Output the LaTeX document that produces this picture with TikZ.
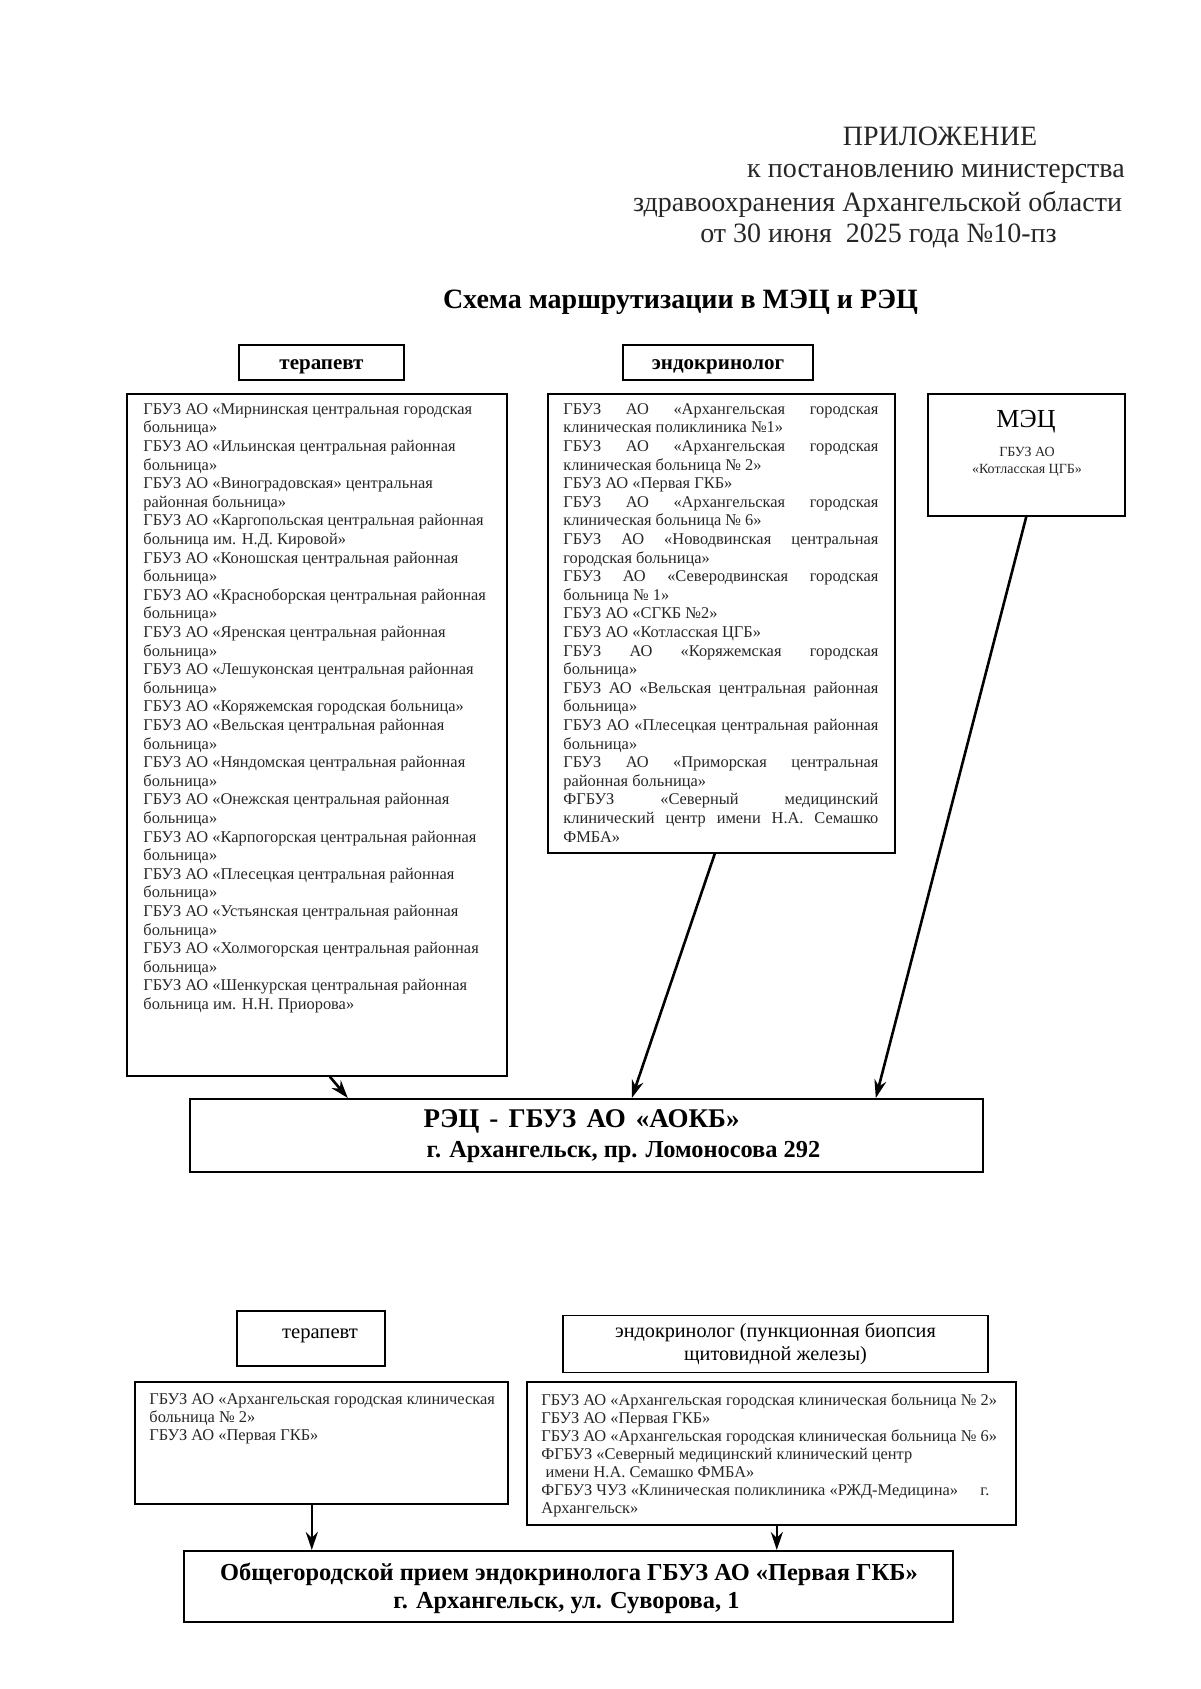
\documentclass[tikz,border=0pt]{standalone}
\usepackage{fontspec}
\setmainfont{Liberation Serif}
\usetikzlibrary{arrows.meta}
\begin{document}
\begin{tikzpicture}[x=0.5pt,y=-0.5pt,
  box/.style={draw, line width=0.8pt, anchor=north west, inner sep=0pt},
  norm/.style={inner sep=0pt, text height=0.72em, text depth=0.22em},
  hd/.style={norm, font=\fontsize{14}{16}\selectfont, text=black!85},
  small/.style={font=\fontsize{8.2}{9.3}\selectfont, text=black!85, align=left, anchor=north west, inner sep=0pt},
  smallb/.style={font=\fontsize{8.2}{9}\selectfont, text=black!85, align=left, anchor=north west, inner sep=0pt},
  bigb/.style={norm, font=\bfseries\fontsize{12.2}{14}\selectfont},
  arr/.style={-{Stealth[length=9pt,width=6pt]}, line width=1.3pt}]
\useasboundingbox (0,0) rectangle (1200,1689);

% header
\node[hd] (h1) at (940,141) {ПРИЛОЖЕНИЕ};
\node[hd] (h2) at (936,173) {к постановлению министерства};
\node[hd] (h3) at (877.5,207) {здравоохранения Архангельской области};
\node[hd] (h4) at (878.5,238) {от 30 июня\ \ 2025 года №10-пз};
\node[norm, font=\bfseries\fontsize{14}{16}\selectfont] (title) at (680.5,304) {Схема маршрутизации в МЭЦ и РЭЦ};

% top headers
\node[draw, line width=0.8pt, minimum width=82.5pt, minimum height=17.5pt, inner sep=0pt] (ter1) at (321.5,362.5) {};
\node[norm, font=\bfseries\fontsize{10.5}{12}\selectfont] (ter1t) at (321.5,365) {терапевт};
\node[draw, line width=0.8pt, minimum width=95pt, minimum height=17.5pt, inner sep=0pt] (end1) at (718,362.5) {};
\node[norm, font=\bfseries\fontsize{10.5}{12}\selectfont] (end1t) at (718,365) {эндокринолог};

% left list
\node[box, minimum width=190pt, minimum height=341pt] (L) at (126,393) {};
\node[small] (Lt) at (143,403) {ГБУЗ АО «Мирнинская центральная городская\\
больница»\\
ГБУЗ АО «Ильинская центральная районная\\
больница»\\
ГБУЗ АО «Виноградовская» центральная\\
районная больница»\\
ГБУЗ АО «Каргопольская центральная районная\\
больница им. Н.Д. Кировой»\\
ГБУЗ АО «Коношская центральная районная\\
больница»\\
ГБУЗ АО «Красноборская центральная районная\\
больница»\\
ГБУЗ АО «Яренская центральная районная\\
больница»\\
ГБУЗ АО «Лешуконская центральная районная\\
больница»\\
ГБУЗ АО «Коряжемская городская больница»\\
ГБУЗ АО «Вельская центральная районная\\
больница»\\
ГБУЗ АО «Няндомская центральная районная\\
больница»\\
ГБУЗ АО «Онежская центральная районная\\
больница»\\
ГБУЗ АО «Карпогорская центральная районная\\
больница»\\
ГБУЗ АО «Плесецкая центральная районная\\
больница»\\
ГБУЗ АО «Устьянская центральная районная\\
больница»\\
ГБУЗ АО «Холмогорская центральная районная\\
больница»\\
ГБУЗ АО «Шенкурская центральная районная\\
больница им. Н.Н. Приорова»};

% middle list
\node[box, minimum width=173.5pt, minimum height=229.5pt] (M) at (547,393) {};
\def\jl#1{\makebox[157.5pt][s]{#1}}
\node[small] (Mt) at (563,403) {\jl{ГБУЗ АО «Архангельская городская}\\
клиническая поликлиника №1»\\
\jl{ГБУЗ АО «Архангельская городская}\\
клиническая больница № 2»\\
ГБУЗ АО «Первая ГКБ»\\
\jl{ГБУЗ АО «Архангельская городская}\\
клиническая больница № 6»\\
\jl{ГБУЗ АО «Новодвинская центральная}\\
городская больница»\\
\jl{ГБУЗ АО «Северодвинская городская}\\
больница № 1»\\
ГБУЗ АО «СГКБ №2»\\
ГБУЗ АО «Котласская ЦГБ»\\
\jl{ГБУЗ АО «Коряжемская городская}\\
больница»\\
\jl{ГБУЗ АО «Вельская центральная районная}\\
больница»\\
\jl{ГБУЗ АО «Плесецкая центральная районная}\\
больница»\\
\jl{ГБУЗ АО «Приморская центральная}\\
районная больница»\\
\jl{ФГБУЗ «Северный медицинский}\\
\jl{клинический центр имени Н.А. Семашко}\\
ФМБА»};

% MEC box
\node[box, minimum width=98.5pt, minimum height=61pt] (MEC) at (927,393) {};
\node[norm, font=\fontsize{13}{15}\selectfont] (MECt) at (1026,423) {МЭЦ};
\node[font=\fontsize{7}{8}\selectfont, text=black!85, inner sep=0pt] (MECa) at (1027,452) {ГБУЗ АО};
\node[font=\fontsize{7}{8}\selectfont, text=black!85, inner sep=0pt] (MECb) at (1027,470) {«Котласская ЦГБ»};

% REC box
\node[box, minimum width=396.5pt, minimum height=36.5pt] (R) at (189,1098) {};
\node[norm, font=\bfseries\fontsize{13.5}{15}\selectfont] (Ra) at (581.5,1122) {\makebox[158pt][s]{РЭЦ - ГБУЗ АО «АОКБ»}};
\node[bigb] (Rb) at (623.5,1152) {г. Архангельск, пр. Ломоносова 292};

% arrows top
\draw[arr] ([xshift=6.5pt]L.south) -- ([xshift=-119.25pt]R.north);
\draw[arr] ([xshift=-3.25pt]M.south) -- ([xshift=22.75pt]R.north);
\draw[arr] (MEC.south) -- ([xshift=144.75pt]R.north);

% bottom headers
\node[draw, line width=0.8pt, minimum width=74pt, minimum height=27.5pt, inner sep=0pt] (ter2) at (311,1338.5) {};
\node[norm, font=\fontsize{10.3}{12}\selectfont] (ter2t) at (320,1333) {терапевт};
\node[draw, line width=0.8pt, minimum width=212.5pt, minimum height=28.5pt, inner sep=0pt, align=center, font=\fontsize{10.1}{11.5}\selectfont] (end2) at (775.5,1344) {эндокринолог (пункционная биопсия\\щитовидной железы)};

% bottom lists
\node[box, minimum width=186.5pt, minimum height=61pt] (BL) at (134,1381) {};
\node[smallb] (BLt) at (149,1393) {ГБУЗ АО «Архангельская городская клиническая\\
больница № 2»\\
ГБУЗ АО «Первая ГКБ»};
\node[box, minimum width=244.5pt, minimum height=71.5pt] (BR) at (526,1381) {};
\node[smallb] (BRt) at (541,1393) {ГБУЗ АО «Архангельская городская клиническая больница № 2»\\
ГБУЗ АО «Первая ГКБ»\\
ГБУЗ АО «Архангельская городская клиническая больница № 6»\\
ФГБУЗ «Северный медицинский клинический центр\\
\ имени Н.А. Семашко ФМБА»\\
\makebox[224pt][l]{ФГБУЗ ЧУЗ «Клиническая поликлиника «РЖД-Медицина»\hfill г.}\\
Архангельск»};

% final box
\node[box, minimum width=384.5pt, minimum height=35.5pt] (F) at (183,1550) {};
\node[bigb] (Fa) at (569,1575) {Общегородской прием эндокринолога ГБУЗ АО «Первая ГКБ»};
\node[bigb] (Fb) at (566.5,1603) {г. Архангельск, ул. Суворова, 1};

\draw[arr] ([xshift=-4.75pt]BL.south) -- ([xshift=-128.25pt]F.north);
\draw[arr] ([xshift=2.75pt]BR.south) -- ([xshift=104.25pt]F.north);
\end{tikzpicture}
\end{document}
